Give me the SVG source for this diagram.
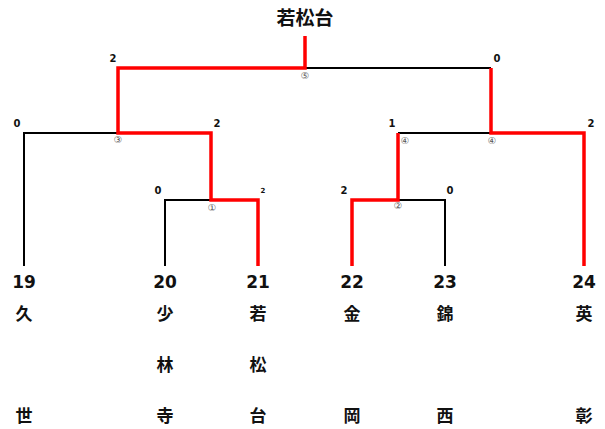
<svg xmlns="http://www.w3.org/2000/svg" width="605" height="429" viewBox="0 0 605 429">
<style>
.bk{stroke:#000;stroke-width:2;fill:none}
.rd{stroke:#f00;stroke-width:3.5;fill:none}
.sc{font-family:"DejaVu Sans",Verdana,sans-serif;font-weight:bold;font-size:10px;fill:#111;text-anchor:middle}
.num{font-family:"DejaVu Sans",Verdana,sans-serif;font-weight:bold;font-size:17px;fill:#111;text-anchor:middle}
.jp{font-family:"Noto Sans CJK JP",sans-serif;font-weight:bold;font-size:17px;fill:#111;text-anchor:middle}
.ci{font-family:"DejaVu Sans","Noto Sans CJK JP",sans-serif;font-size:9.5px;fill:#555;text-anchor:middle}
</style>
<rect width="605" height="429" fill="#fff"/>
<g id="connectors">
<path class="bk" d="M305 68H491"/>
<path class="bk" d="M24 266V133H118"/>
<path class="bk" d="M398 133H491"/>
<path class="bk" d="M165 266V200H211"/>
<path class="bk" d="M398 200H445V266"/>
<path class="rd" d="M305 36V68H118V133H211V200H258V266"/>
<path class="rd" d="M491 68V133H584V266"/>
<path class="rd" d="M398 133V200H352V266"/>
</g>
<g id="title"><text class="jp" x="305" y="25" style="font-size:19px">若松台</text></g>
<g id="scores">
<text class="sc" x="113" y="62">2</text>
<text class="sc" x="497" y="62">0</text>
<text class="sc" x="17" y="127">0</text>
<text class="sc" x="217" y="127">2</text>
<text class="sc" x="392" y="127">1</text>
<text class="sc" x="591" y="127">2</text>
<text class="sc" x="158" y="194">0</text>
<text class="sc" x="263" y="193" style="font-size:7px">2</text>
<text class="sc" x="344" y="194">2</text>
<text class="sc" x="450" y="194">0</text>
</g>
<g id="matches">
<text class="ci" x="305" y="79">⑤</text>
<text class="ci" x="118" y="143">③</text>
<text class="ci" x="405" y="144">④</text>
<text class="ci" x="492" y="144">④</text>
<text class="ci" x="212" y="211">①</text>
<text class="ci" x="398" y="209">②</text>
</g>
<g id="team19"><text class="num" x="24" y="288">19</text><text class="jp" x="24" y="320">久</text><text class="jp" x="24" y="422">世</text></g>
<g id="team20"><text class="num" x="165" y="288">20</text><text class="jp" x="165" y="320">少</text><text class="jp" x="165" y="371">林</text><text class="jp" x="165" y="422">寺</text></g>
<g id="team21"><text class="num" x="258" y="288">21</text><text class="jp" x="258" y="320">若</text><text class="jp" x="258" y="371">松</text><text class="jp" x="258" y="422">台</text></g>
<g id="team22"><text class="num" x="352" y="288">22</text><text class="jp" x="352" y="320">金</text><text class="jp" x="352" y="422">岡</text></g>
<g id="team23"><text class="num" x="445" y="288">23</text><text class="jp" x="445" y="320">錦</text><text class="jp" x="445" y="422">西</text></g>
<g id="team24"><text class="num" x="584" y="288">24</text><text class="jp" x="584" y="320">英</text><text class="jp" x="584" y="422">彰</text></g>
</svg>
